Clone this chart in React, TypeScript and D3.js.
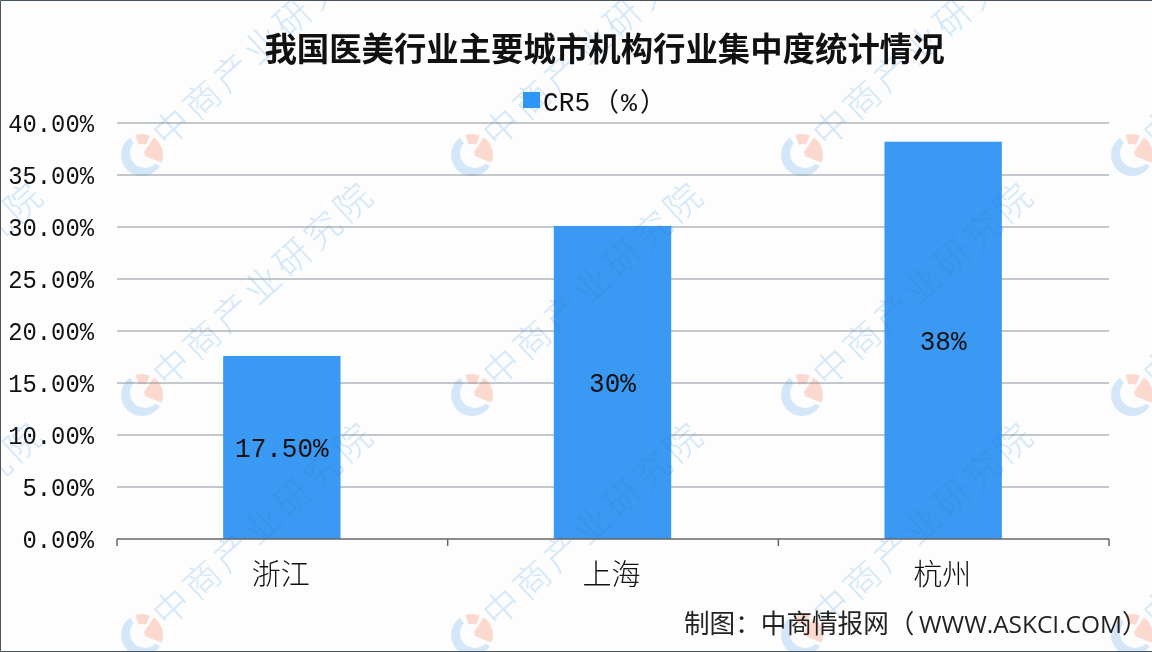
import React from "react";
import * as d3 from "d3";

const cities = ["浙江", "上海", "杭州"];
const cr5 = [17.6, 30.1, 38.2];
const barLabels = ["17.50%", "30%", "38%"];
const yTicks = [0, 5, 10, 15, 20, 25, 30, 35, 40];
const markColumns = [-188, 142, 472, 802, 1132];
const markRows = [155, 395, 635];

const width = 1152;
const height = 652;
const axisLeft = 117;
const axisRight = 1109;
const monoFont = "'Liberation Mono', monospace";
const cjkFont = "'Noto Sans CJK SC', sans-serif";

const x = d3
  .scaleBand<string>()
  .domain(cities)
  .range([axisLeft - 0.5, axisRight - 0.5])
  .paddingInner(0.645)
  .paddingOuter(0.3225);
const y = d3.scaleLinear().domain([0, 40]).range([539, 123]);

// 水印 logo
const arc = d3.arc();
const deg = Math.PI / 180;
const logoBlue = arc({ innerRadius: 0, outerRadius: 21, startAngle: 122 * deg, endAngle: 325 * deg }) as string;
const logoPinkTop = arc({ innerRadius: 11, outerRadius: 21, startAngle: -18 * deg, endAngle: 22 * deg }) as string;
const logoPinkRight = arc({ innerRadius: 3, outerRadius: 21, startAngle: 34 * deg, endAngle: 112 * deg }) as string;

const Watermark: React.FC<{ blue: string; pink: string; hole: string }> = ({ blue, pink, hole }) => (
  <g>
    {markRows.map((r) =>
      markColumns.map((c) => (
        <g key={`${r}-${c}`} transform={`translate(${c},${r})`}>
          <path d={logoBlue} fill={blue} />
          <circle cx={3} cy={-2} r={15} fill={hole} />
          <path d={logoPinkTop} fill={pink} />
          <path d={logoPinkRight} fill={pink} />
          <text
            transform="translate(25,-6) rotate(-42.3)"
            fontFamily={cjkFont}
            fontSize={36}
            letterSpacing={4.8}
            fontWeight={300}
            fill={blue}
          >
            中商产业研究院
          </text>
        </g>
      ))
    )}
  </g>
);

const MonoText: React.FC<{
  x: number;
  y: number;
  size: number;
  charWidth: number;
  anchor?: string;
  children: string;
}> = ({ x: tx, y: ty, size, charWidth, anchor = "start", children }) => (
  <text
    x={tx}
    y={ty}
    textAnchor={anchor}
    fontFamily={monoFont}
    fontSize={size}
    fill="#111"
    textLength={children.length * charWidth}
    lengthAdjust="spacingAndGlyphs"
  >
    {children}
  </text>
);

export default function App() {
  return (
    <svg
      width={width}
      height={height}
      viewBox={`0 0 ${width} ${height}`}
      style={{ position: "absolute", left: 0, top: 0, background: "#fdfdfe" }}
    >
      <defs>
        <clipPath id="bars">
          {cities.map((c, i) => (
            <rect key={c} x={x(c)} y={y(cr5[i])} width={x.bandwidth()} height={y(0) - y(cr5[i])} />
          ))}
        </clipPath>
      </defs>

      <Watermark blue="#d3e7f8" pink="#fbd9cf" hole="#fdfdfe" />

      {yTicks.slice(1).map((t) => (
        <line key={t} x1={axisLeft} x2={axisRight} y1={y(t)} y2={y(t)} stroke="#8a9099" strokeWidth={1} />
      ))}

      {cities.map((c, i) => (
        <rect key={c} x={x(c)} y={y(cr5[i])} width={x.bandwidth()} height={y(0) - y(cr5[i])} fill="#3a99f3" />
      ))}
      <g clipPath="url(#bars)" opacity={0.2}>
        <Watermark blue="#2f7fd0" pink="#2f7fd0" hole="#3a99f3" />
      </g>

      {/* 坐标轴 */}
      <line x1={axisLeft} x2={axisRight} y1={y(0)} y2={y(0)} stroke="#666" strokeWidth={1.5} />
      {[0, 1, 2, 3].map((i) => {
        const tx = axisLeft + (i * (axisRight - axisLeft)) / 3;
        return <line key={i} x1={tx} x2={tx} y1={y(0)} y2={y(0) + 7} stroke="#666" strokeWidth={1.5} />;
      })}

      {yTicks.map((t) => (
        <MonoText key={t} x={94} y={y(t) + 9} size={26} charWidth={14.3} anchor="end">
          {`${t.toFixed(2)}%`}
        </MonoText>
      ))}

      {cities.map((c) => (
        <text
          key={c}
          x={(x(c) as number) + x.bandwidth() / 2 - 1}
          y={585}
          textAnchor="middle"
          fontFamily={cjkFont}
          fontSize={29}
          fontWeight={300}
          fill="#111"
        >
          {c}
        </text>
      ))}

      {cities.map((c, i) => (
        <MonoText
          key={c}
          x={(x(c) as number) + x.bandwidth() / 2}
          y={y(cr5[i] / 2) + 10}
          size={27}
          charWidth={15.6}
          anchor="middle"
        >
          {barLabels[i]}
        </MonoText>
      ))}

      <text x={604.5} y={61} textAnchor="middle" fontFamily={cjkFont} fontSize={32.4} fontWeight={700} fill="#111">
        我国医美行业主要城市机构行业集中度统计情况
      </text>

      {/* 图例 */}
      <rect x={523} y={92} width={17} height={16} fill="#2e96f7" />
      <MonoText x={543} y={111} size={27} charWidth={15.7}>
        CR5
      </MonoText>
      <text x={593} y={111} fontFamily={cjkFont} fontSize={26} fill="#111">
        （
      </text>
      <MonoText x={621} y={111} size={26} charWidth={16}>
        %
      </MonoText>
      <text x={640} y={111} fontFamily={cjkFont} fontSize={26} fill="#111">
        ）
      </text>

      {/* 来源 */}
      <text x={684} y={633} fontFamily={cjkFont} fontSize={25.6} fill="#222">
        制图：中商情报网（
      </text>
      <text
        x={919}
        y={633}
        fontFamily="'Open Sans', sans-serif"
        fontSize={24}
        fill="#222"
        textLength={203}
        lengthAdjust="spacingAndGlyphs"
      >
        WWW.ASKCI.COM
      </text>
      <text x={1122} y={633} fontFamily={cjkFont} fontSize={25.6} fill="#222">
        ）
      </text>

      {/* 外框 */}
      <path
        d={`M${width},0.5H0.5V${height - 0.5}H${width}`}
        fill="none"
        stroke="#4a5560"
        strokeWidth={1}
      />
    </svg>
  );
}
